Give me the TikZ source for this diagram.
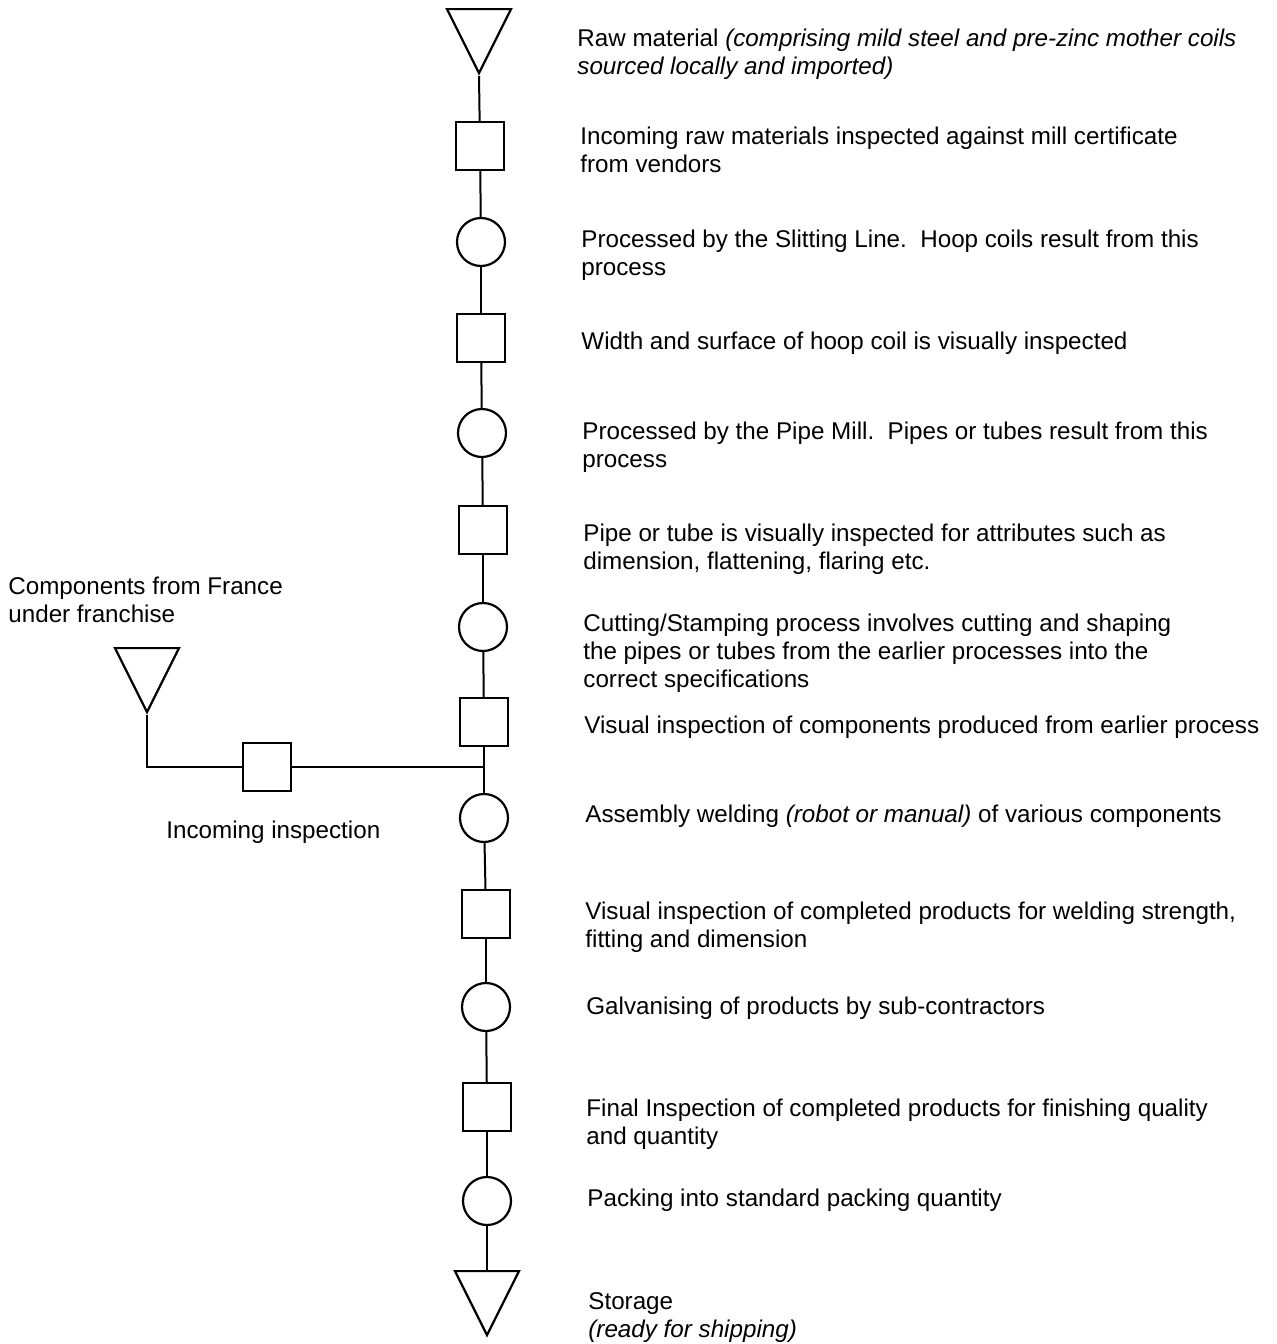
\documentclass[tikz,border=0pt]{standalone}
\usepackage{fontspec}
\setmainfont{Liberation Sans}
\usetikzlibrary{shapes.geometric}
\tikzset{flow/.style={line width=1pt},
         store/.style={draw,isosceles triangle,isosceles triangle stretches,
           shape border rotate=-90,minimum width=32pt,minimum height=32pt,
           inner sep=0pt,line width=1.1pt,anchor=apex},
         inspect/.style={draw,rectangle,minimum size=24pt,inner sep=0pt,line width=1.1pt},
         operate/.style={draw,circle,minimum size=24pt,inner sep=0pt,line width=1.1pt},
         note/.style={anchor=west,align=left,inner sep=0pt,
           font=\fontsize{12.1}{14}\selectfont}}

\begin{document}
\begin{tikzpicture}[x=0.5pt,y=-0.5pt]
	\useasboundingbox (0,0) rectangle (1276,1344);
	\node[store] (raw) at (479,76) {};
	\node[inspect] (insp1) at (480,146) {};
	\node[operate] (slit) at (481,242) {};
	\node[inspect] (insp2) at (481,338) {};
	\node[operate] (mill) at (482,433) {};
	\node[inspect] (insp3) at (483,530) {};
	\node[operate] (cut) at (483,627) {};
	\node[inspect] (insp4) at (484,722) {};
	\node[operate] (weld) at (484,818) {};
	\node[inspect] (insp5) at (486,914) {};
	\node[operate] (galv) at (486,1007) {};
	\node[inspect] (insp6) at (487,1107) {};
	\node[operate] (pack) at (487,1201) {};
	\node[store] (storage) at (487,1338) {};
	\foreach \a/\b in {raw.apex/insp1,insp1/slit,slit/insp2,insp2/mill,mill/insp3,
	    insp3/cut,cut/insp4,insp4/weld,weld/insp5,insp5/galv,galv/insp6,
	    insp6/pack,pack/storage}
	  \draw[flow] (\a) -- (\b);

	\node[store] (france) at (147,715) {};
	\node[inspect] (inspin) at (267,767) {};
	\coordinate (merge) at (484,767);
	\draw[flow] (france.apex) |- (inspin);
	\draw[flow] (inspin) -- (merge);

	\node[note] (t-raw) at (577,54) {Raw material \textit{(comprising mild steel and pre-zinc mother coils}\\\textit{sourced locally and imported)}};
	\node[note] (t-insp1) at (580,150) {Incoming raw materials inspected against mill certificate\\from vendors};
	\node[note] (t-slit) at (581,255) {Processed by the Slitting Line.\ \ Hoop coils result from this\\process};
	\node[note] (t-insp2) at (581,343) {Width and surface of hoop coil is visually inspected};
	\node[note] (t-mill) at (582,447) {Processed by the Pipe Mill.\ \ Pipes or tubes result from this\\process};
	\node[note] (t-insp3) at (583,549) {Pipe or tube is visually inspected for attributes such as\\dimension, flattening, flaring etc.};
	\node[note] (t-cut) at (583,653) {Cutting/Stamping process involves cutting and shaping\\the pipes or tubes from the earlier processes into the\\correct specifications};
	\node[note] (t-insp4) at (584,727) {Visual inspection of components produced from earlier process};
	\node[note] (t-weld) at (585,816) {Assembly welding \textit{(robot or manual)} of various components};
	\node[note] (t-insp5) at (585,927) {Visual inspection of completed products for welding strength,\\fitting and dimension};
	\node[note] (t-galv) at (586,1008) {Galvanising of products by sub-contractors};
	\node[note] (t-insp6) at (586,1124) {Final Inspection of completed products for finishing quality\\and quantity};
	\node[note] (t-pack) at (587,1200) {Packing into standard packing quantity};
	\node[note] (t-storage) at (588,1318) {Storage\\\textit{(ready for shipping)}};
	\node[note] (t-france) at (8,600) {Components from France\\under franchise};
	\node[note] (t-inspin) at (166,832) {Incoming inspection};
\end{tikzpicture}
\end{document}
